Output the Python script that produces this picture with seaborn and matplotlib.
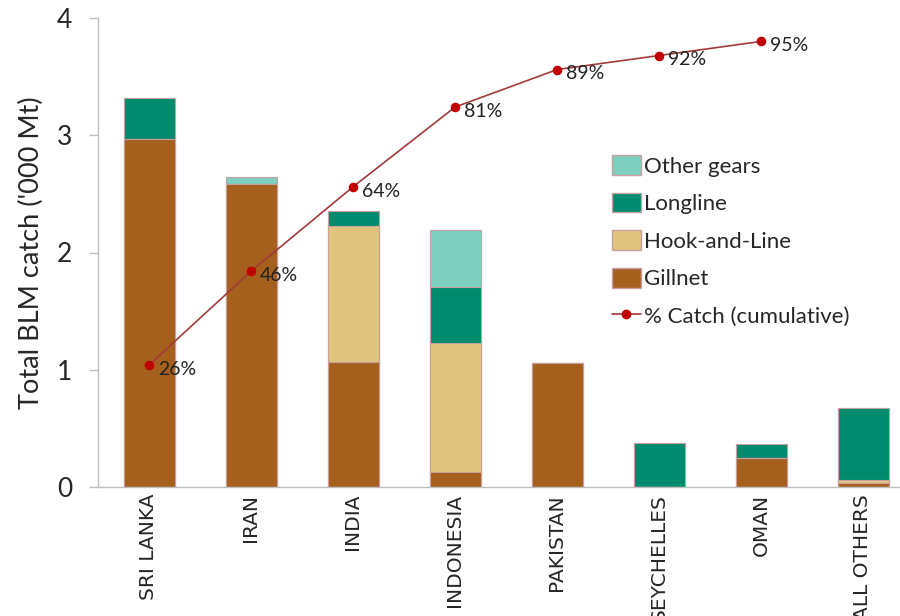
import matplotlib
matplotlib.use("Agg")
import matplotlib.pyplot as plt
import seaborn as sns
import numpy as np
import pandas as pd
from matplotlib.lines import Line2D
from matplotlib.patches import Patch

countries = ["SRI LANKA", "IRAN", "INDIA", "INDONESIA", "PAKISTAN", "SEYCHELLES", "OMAN", "ALL OTHERS"]
gillnet = [2.97, 2.58, 1.07, 0.13, 1.06, 0.0, 0.25, 0.035]
hook_and_line = [0.0, 0.0, 1.16, 1.10, 0.0, 0.0, 0.0, 0.025]
longline = [0.35, 0.0, 0.12, 0.48, 0.0, 0.375, 0.12, 0.61]
other_gears = [0.0, 0.06, 0.0, 0.48, 0.0, 0.0, 0.0, 0.0]
pct_cumulative = [26, 46, 64, 81, 89, 92, 95, np.nan]
pct_labels = ["26%", "46%", "64%", "81%", "89%", "92%", "95%", ""]

c_gill = "#A5601E"
c_hook = "#E0C47E"
c_long = "#008A6E"
c_other = "#7FCFC0"
c_line = "#A33A3A"
c_mark = "#C00000"
edge = "#C9A0A0"

sns.set_style("white")
plt.rcParams["font.family"] = ["Lato", "DejaVu Sans"]

fig = plt.figure(figsize=(9, 6.16), dpi=100)
ax = fig.add_axes([98 / 900, 1 - 487 / 616, 816 / 900, (487 - 18) / 616])

df = pd.DataFrame({"country": countries, "Gillnet": gillnet, "Hook": hook_and_line,
                   "Longline": longline, "Other": other_gears})
df["c1"] = df["Gillnet"]
df["c2"] = df["c1"] + df["Hook"]
df["c3"] = df["c2"] + df["Longline"]
df["c4"] = df["c3"] + df["Other"]

for col, color in [("c4", c_other), ("c3", c_long), ("c2", c_hook), ("c1", c_gill)]:
    sns.barplot(data=df, x="country", y=col, order=countries, color=color, width=0.5,
                edgecolor=edge, linewidth=0.8, saturation=1, ax=ax)

ax.set_ylim(0, 4)
ax.set_xlim(-0.5, 7.5)
ax.set_yticks([0, 1, 2, 3, 4])
ax.set_yticklabels(["0", "1", "2", "3", "4"], fontsize=19)
ax.set_ylabel("Total BLM catch ('000 Mt)", fontsize=19.5, labelpad=9)
ax.set_xlabel("")

ax2 = ax.twinx()
dl = pd.DataFrame({"country": countries, "pct": pct_cumulative})
sns.pointplot(data=dl, x="country", y="pct", order=countries, color=c_line,
              markers="o", markersize=6, linewidth=1.2, ax=ax2)
for l in ax2.lines:
    l.set_markerfacecolor(c_mark)
    l.set_markeredgecolor(c_mark)
ax2.set_ylim(0, 100)
for i, (v, t) in enumerate(zip(pct_cumulative, pct_labels)):
    if t:
        ax2.annotate(t, (i, v), xytext=(6.5, -3), textcoords="offset points",
                     fontsize=14, color="#222222", ha="left", va="center")
ax2.set_yticks([])
ax2.set_ylabel("")
ax2.set_xlabel("")
for s in ax2.spines.values():
    s.set_visible(False)

ax.set_xlim(-0.5, 7.5)
ax.set_xticks(range(len(countries)))
ax.set_xticklabels(countries, rotation=90, fontsize=14.5, family=["DejaVu Sans"])
ax.set_xticks(np.arange(-0.5, 8.0, 1.0), minor=True)
ax.tick_params(axis="x", which="major", length=0, pad=5)
ax.tick_params(axis="x", which="minor", length=8, color="#BFBFBF", width=1, direction="out")
ax.tick_params(axis="y", length=6.5, color="#BFBFBF", width=1, direction="out", left=True, pad=12)
ax.set_xlabel("")

for side in ["top", "right"]:
    ax.spines[side].set_visible(False)
for side in ["left", "bottom"]:
    ax.spines[side].set_color("#BFBFBF")
    ax.spines[side].set_linewidth(1)

handles = [
    Patch(facecolor=c_other, edgecolor=edge, label="Other gears"),
    Patch(facecolor=c_long, edgecolor=edge, label="Longline"),
    Patch(facecolor=c_hook, edgecolor=edge, label="Hook-and-Line"),
    Patch(facecolor=c_gill, edgecolor=edge, label="Gillnet"),
    Line2D([0], [0], color=c_line, marker="o", markersize=6, markerfacecolor=c_mark,
           markeredgecolor=c_mark, linewidth=1.2, label="% Catch (cumulative)"),
]
leg = ax2.legend(handles=handles, loc="upper left",
                 bbox_to_anchor=((612 - 98) / 816, 1 - (155 - 18) / 469),
                 frameon=False, fontsize=16, handlelength=1.3, handleheight=1.0,
                 handletextpad=0.15, labelspacing=0.72, borderaxespad=0, borderpad=0)

fig.savefig("out.png", dpi=100)
